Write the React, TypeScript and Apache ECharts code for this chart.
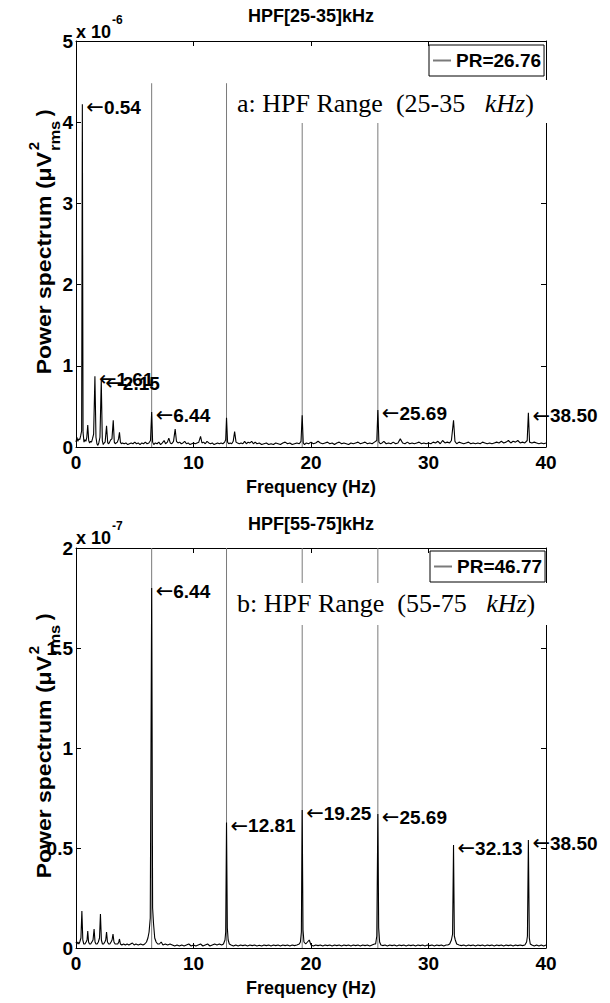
import React, { useEffect, useRef } from "react";
import * as echarts from "echarts";

const SANS = "'Liberation Sans', Arial, Helvetica, sans-serif";
const SERIF = "'Liberation Serif', 'Times New Roman', serif";

// ---------- texts ----------
const topTitle = "HPF[25-35]kHz";
const bottomTitle = "HPF[55-75]kHz";
const topLegendName = "PR=26.76";
const bottomLegendName = "PR=46.77";
const topNotePrefix = "a: HPF Range  (25-35   ";
const bottomNotePrefix = "b: HPF Range  (55-75   ";
const noteUnit = "kHz";
const xAxisName = "Frequency (Hz)";
const topExponent = "-6";
const bottomExponent = "-7";

// ---------- axes ----------
const xMin = 0;
const xMax = 40;
const xStep = 10;
const topYMax = 5;
const topYStep = 1;
const bottomYMax = 2;
const bottomYStep = 0.5;

// ---------- harmonic marker lines (grey, legend series) ----------
const harmonicHz = [6.44, 12.81, 19.25, 25.69];
const topHarmonicPower = [4.48, 4.48, 4.48, 4.48];
const bottomHarmonicPower = [2.0, 2.0, 2.0, 2.0];

// ---------- labelled peaks ----------
const topPeakHz = [0.54, 1.61, 2.15, 6.44, 25.69, 38.5];
const topPeakPower = [4.22, 0.87, 0.82, 0.43, 0.455, 0.42];
const bottomPeakHz = [6.44, 12.81, 19.25, 25.69, 32.13, 38.5];
const bottomPeakPower = [1.8, 0.627, 0.69, 0.67, 0.515, 0.54];

// ---------- spectra [Hz, power] (top: x1e-6, bottom: x1e-7) ----------
const topSpectrum = [
  [0.0, 0.06], [0.08, 0.12], [0.16, 0.07], [0.24, 0.1], [0.32, 0.09], [0.4, 0.14], [0.48, 0.2], [0.54, 4.22],
  [0.6, 0.18], [0.68, 0.06], [0.76, 0.09], [0.84, 0.07], [0.92, 0.12], [1.0, 0.27], [1.08, 0.08], [1.16, 0.05],
  [1.24, 0.07], [1.32, 0.06], [1.4, 0.1], [1.5, 0.16], [1.61, 0.87], [1.7, 0.12], [1.78, 0.04], [1.86, 0.02],
  [1.94, 0.05], [2.04, 0.12], [2.15, 0.82], [2.24, 0.08], [2.32, 0.03], [2.4, 0.05], [2.48, 0.06], [2.6, 0.26],
  [2.7, 0.05], [2.78, 0.04], [2.86, 0.06], [2.96, 0.09], [3.06, 0.1], [3.17, 0.33], [3.26, 0.06], [3.34, 0.04],
  [3.42, 0.05], [3.52, 0.06], [3.62, 0.1], [3.7, 0.18], [3.78, 0.06], [3.86, 0.04], [3.96, 0.05], [4.1, 0.04],
  [4.25, 0.05], [4.4, 0.03], [4.55, 0.04], [4.7, 0.05], [4.85, 0.04], [5.0, 0.06], [5.15, 0.04], [5.3, 0.05],
  [5.45, 0.03], [5.6, 0.05], [5.75, 0.04], [5.9, 0.06], [6.05, 0.04], [6.2, 0.05], [6.34, 0.08], [6.44, 0.43],
  [6.52, 0.06], [6.62, 0.03], [6.75, 0.05], [6.9, 0.04], [7.05, 0.06], [7.2, 0.03], [7.35, 0.05], [7.5, 0.08],
  [7.62, 0.04], [7.78, 0.06], [7.9, 0.11], [8.02, 0.05], [8.15, 0.04], [8.3, 0.07], [8.44, 0.22], [8.55, 0.07],
  [8.68, 0.05], [8.82, 0.06], [8.96, 0.04], [9.1, 0.05], [9.25, 0.07], [9.4, 0.04], [9.55, 0.05], [9.7, 0.03],
  [9.85, 0.04], [10.0, 0.05], [10.15, 0.04], [10.3, 0.05], [10.45, 0.06], [10.6, 0.13], [10.72, 0.05], [10.85, 0.06],
  [11.0, 0.04], [11.15, 0.07], [11.3, 0.05], [11.45, 0.04], [11.6, 0.05], [11.75, 0.03], [11.9, 0.04], [12.05, 0.05],
  [12.2, 0.04], [12.35, 0.05], [12.5, 0.04], [12.65, 0.06], [12.74, 0.09], [12.81, 0.36], [12.9, 0.06], [13.0, 0.04],
  [13.12, 0.05], [13.25, 0.04], [13.38, 0.07], [13.5, 0.19], [13.62, 0.06], [13.75, 0.05], [13.9, 0.04], [14.05, 0.05],
  [14.2, 0.04], [14.35, 0.07], [14.5, 0.04], [14.65, 0.06], [14.8, 0.05], [14.95, 0.07], [15.1, 0.04], [15.25, 0.06],
  [15.4, 0.04], [15.6, 0.05], [15.8, 0.03], [16.0, 0.04], [16.2, 0.05], [16.4, 0.03], [16.6, 0.04], [16.8, 0.03],
  [17.0, 0.05], [17.2, 0.04], [17.4, 0.03], [17.6, 0.05], [17.8, 0.06], [18.0, 0.04], [18.2, 0.05], [18.4, 0.03],
  [18.6, 0.04], [18.8, 0.05], [19.0, 0.04], [19.15, 0.07], [19.25, 0.39], [19.34, 0.05], [19.45, 0.03], [19.6, 0.05],
  [19.8, 0.04], [20.0, 0.06], [20.2, 0.04], [20.4, 0.05], [20.6, 0.07], [20.8, 0.05], [21.0, 0.04], [21.2, 0.05],
  [21.4, 0.06], [21.6, 0.04], [21.8, 0.05], [22.0, 0.03], [22.2, 0.05], [22.4, 0.06], [22.6, 0.04], [22.8, 0.05],
  [23.0, 0.04], [23.2, 0.03], [23.4, 0.05], [23.6, 0.04], [23.8, 0.05], [24.0, 0.06], [24.2, 0.04], [24.4, 0.05],
  [24.6, 0.06], [24.8, 0.04], [25.0, 0.05], [25.2, 0.04], [25.4, 0.06], [25.6, 0.08], [25.69, 0.455], [25.78, 0.06],
  [25.9, 0.04], [26.05, 0.05], [26.2, 0.07], [26.4, 0.04], [26.6, 0.05], [26.8, 0.04], [27.0, 0.06], [27.2, 0.04],
  [27.4, 0.05], [27.6, 0.1], [27.8, 0.05], [28.0, 0.04], [28.2, 0.06], [28.4, 0.04], [28.6, 0.05], [28.8, 0.04],
  [29.0, 0.05], [29.2, 0.06], [29.4, 0.04], [29.6, 0.05], [29.8, 0.04], [30.0, 0.05], [30.2, 0.04], [30.4, 0.06],
  [30.6, 0.05], [30.8, 0.07], [31.0, 0.04], [31.2, 0.08], [31.4, 0.05], [31.6, 0.06], [31.8, 0.05], [31.95, 0.08],
  [32.13, 0.33], [32.25, 0.07], [32.4, 0.04], [32.6, 0.06], [32.8, 0.05], [33.0, 0.04], [33.2, 0.05], [33.4, 0.06],
  [33.6, 0.04], [33.8, 0.05], [34.0, 0.04], [34.2, 0.05], [34.4, 0.04], [34.6, 0.06], [34.8, 0.05], [35.0, 0.04],
  [35.2, 0.05], [35.4, 0.04], [35.6, 0.05], [35.8, 0.06], [36.0, 0.05], [36.2, 0.07], [36.4, 0.05], [36.6, 0.06],
  [36.8, 0.08], [37.0, 0.05], [37.2, 0.07], [37.4, 0.06], [37.6, 0.08], [37.8, 0.05], [38.0, 0.06], [38.2, 0.05],
  [38.4, 0.08], [38.5, 0.42], [38.6, 0.06], [38.8, 0.05], [39.0, 0.06], [39.2, 0.05], [39.4, 0.04], [39.6, 0.05],
  [39.8, 0.04], [40.0, 0.05],
];

const bottomSpectrum = [
  [0.0, 0.03], [0.08, 0.02], [0.16, 0.03], [0.24, 0.02], [0.32, 0.03], [0.42, 0.05], [0.5, 0.185], [0.58, 0.04],
  [0.66, 0.02], [0.76, 0.02], [0.86, 0.03], [0.94, 0.04], [1.0, 0.085], [1.07, 0.03], [1.15, 0.02], [1.25, 0.02],
  [1.35, 0.03], [1.45, 0.04], [1.54, 0.095], [1.62, 0.03], [1.7, 0.02], [1.8, 0.02], [1.9, 0.03], [2.0, 0.05],
  [2.08, 0.17], [2.16, 0.04], [2.25, 0.02], [2.35, 0.02], [2.45, 0.03], [2.53, 0.04], [2.6, 0.08], [2.68, 0.03],
  [2.78, 0.02], [2.88, 0.02], [2.98, 0.03], [3.07, 0.04], [3.15, 0.07], [3.23, 0.03], [3.33, 0.02], [3.45, 0.02],
  [3.55, 0.02], [3.64, 0.03], [3.7, 0.045], [3.78, 0.02], [3.9, 0.015], [4.05, 0.02], [4.2, 0.015], [4.35, 0.02],
  [4.5, 0.015], [4.65, 0.02], [4.8, 0.025], [4.95, 0.015], [5.1, 0.02], [5.3, 0.015], [5.5, 0.02], [5.7, 0.015],
  [5.85, 0.02], [6.0, 0.03], [6.12, 0.05], [6.22, 0.08], [6.32, 0.15], [6.44, 1.8], [6.52, 0.2], [6.6, 0.12],
  [6.7, 0.05], [6.82, 0.03], [6.95, 0.02], [7.1, 0.02], [7.25, 0.03], [7.4, 0.015], [7.6, 0.02], [7.8, 0.015],
  [8.0, 0.02], [8.2, 0.015], [8.4, 0.01], [8.6, 0.015], [8.8, 0.01], [9.0, 0.015], [9.2, 0.01], [9.4, 0.015],
  [9.6, 0.02], [9.8, 0.01], [10.0, 0.015], [10.2, 0.01], [10.4, 0.015], [10.6, 0.02], [10.8, 0.01], [11.0, 0.015],
  [11.2, 0.02], [11.4, 0.01], [11.6, 0.015], [11.8, 0.02], [12.0, 0.015], [12.2, 0.02], [12.4, 0.015], [12.55, 0.02],
  [12.68, 0.04], [12.74, 0.08], [12.81, 0.627], [12.88, 0.1], [12.95, 0.04], [13.05, 0.02], [13.2, 0.015], [13.4, 0.01],
  [13.6, 0.015], [13.8, 0.01], [14.0, 0.015], [14.2, 0.012], [14.4, 0.015], [14.6, 0.01], [14.8, 0.015], [15.0, 0.012],
  [15.2, 0.015], [15.4, 0.01], [15.6, 0.014], [15.8, 0.01], [16.0, 0.015], [16.2, 0.012], [16.4, 0.015], [16.6, 0.01],
  [16.8, 0.015], [17.0, 0.012], [17.2, 0.015], [17.4, 0.01], [17.6, 0.015], [17.8, 0.012], [18.0, 0.015], [18.2, 0.01],
  [18.4, 0.015], [18.6, 0.012], [18.8, 0.015], [19.0, 0.02], [19.1, 0.03], [19.18, 0.08], [19.25, 0.69], [19.32, 0.09],
  [19.4, 0.03], [19.55, 0.02], [19.7, 0.03], [19.85, 0.04], [20.0, 0.015], [20.2, 0.01], [20.4, 0.015], [20.6, 0.012],
  [20.8, 0.015], [21.0, 0.01], [21.2, 0.015], [21.4, 0.012], [21.6, 0.015], [21.8, 0.01], [22.0, 0.015], [22.2, 0.012],
  [22.4, 0.015], [22.6, 0.01], [22.8, 0.015], [23.0, 0.012], [23.2, 0.015], [23.4, 0.01], [23.6, 0.015], [23.8, 0.012],
  [24.0, 0.015], [24.2, 0.01], [24.4, 0.015], [24.6, 0.012], [24.8, 0.015], [25.0, 0.01], [25.2, 0.015], [25.4, 0.02],
  [25.5, 0.02], [25.6, 0.06], [25.69, 0.67], [25.76, 0.1], [25.84, 0.03], [25.95, 0.015], [26.1, 0.012], [26.3, 0.015],
  [26.5, 0.01], [26.7, 0.015], [26.9, 0.012], [27.1, 0.015], [27.3, 0.01], [27.5, 0.015], [27.7, 0.012], [27.9, 0.015],
  [28.1, 0.01], [28.3, 0.015], [28.5, 0.012], [28.7, 0.015], [28.9, 0.01], [29.1, 0.015], [29.3, 0.012], [29.5, 0.015],
  [29.7, 0.01], [29.9, 0.015], [30.1, 0.012], [30.3, 0.015], [30.5, 0.01], [30.7, 0.015], [30.9, 0.012], [31.1, 0.015],
  [31.3, 0.01], [31.5, 0.015], [31.65, 0.015], [31.8, 0.02], [31.95, 0.04], [32.05, 0.07], [32.13, 0.515], [32.2, 0.06],
  [32.28, 0.04], [32.4, 0.02], [32.6, 0.015], [32.8, 0.012], [33.0, 0.015], [33.2, 0.01], [33.4, 0.015], [33.6, 0.012],
  [33.8, 0.015], [34.0, 0.01], [34.2, 0.015], [34.4, 0.012], [34.6, 0.015], [34.8, 0.01], [35.0, 0.015], [35.2, 0.012],
  [35.4, 0.015], [35.6, 0.01], [35.8, 0.015], [36.0, 0.012], [36.2, 0.015], [36.4, 0.01], [36.6, 0.015], [36.8, 0.012],
  [37.0, 0.015], [37.2, 0.01], [37.4, 0.015], [37.6, 0.012], [37.8, 0.015], [38.0, 0.012], [38.2, 0.015], [38.35, 0.03],
  [38.42, 0.06], [38.5, 0.54], [38.58, 0.05], [38.66, 0.02], [38.8, 0.015], [39.0, 0.01], [39.2, 0.015], [39.4, 0.01],
  [39.6, 0.015], [39.8, 0.01], [40.0, 0.015],
];

// ---------- helpers ----------
function harmonicLines(hz: number[], power: number[]) {
  const out: any[] = [];
  hz.forEach((h, i) => {
    out.push([h, 0], [h, power[i]], [h, "-"]);
  });
  return out;
}

function peakPairs(hz: number[], power: number[]) {
  return hz.map((h, i) => [h, power[i]]);
}

const GRID_LEFT = 76;
const GRID_WIDTH = 470;
const GRID_TOPS = [41, 548];
const GRID_HEIGHTS = [406, 400];

function yNameGraphics(cy: number) {
  const base = { fontFamily: SANS, fontWeight: "bold" as const, fill: "#000" };
  return [
    {
      type: "text",
      x: 44,
      y: cy - 92,
      rotation: Math.PI / 2,
      scaleX: 1.15,
      style: { ...base, text: "Power spectrum (\u03bcV", fontSize: 20, align: "right", verticalAlign: "middle" },
    },
    {
      type: "text",
      x: 33,
      y: cy - 98,
      rotation: Math.PI / 2,
      style: { ...base, text: "2", fontSize: 15, align: "center", verticalAlign: "middle" },
    },
    {
      type: "text",
      x: 55,
      y: cy - 93,
      rotation: Math.PI / 2,
      scaleX: 1.1,
      style: { ...base, text: "rms", fontSize: 15, align: "left", verticalAlign: "middle" },
    },
    {
      type: "text",
      x: 44,
      y: cy - 131,
      rotation: Math.PI / 2,
      style: { ...base, text: ")", fontSize: 20, align: "center", verticalAlign: "middle" },
    },
  ];
}

function exponentGraphics(y: number, exp: string) {
  return [
    {
      type: "text",
      x: 76,
      y: y,
      style: { text: "x 10", fontFamily: SANS, fontWeight: "bold", fontSize: 18, fill: "#000", align: "left", verticalAlign: "middle" },
    },
    {
      type: "text",
      x: 112,
      y: y - 12,
      style: { text: exp, fontFamily: SANS, fontWeight: "bold", fontSize: 12, fill: "#000", align: "left", verticalAlign: "middle" },
    },
  ];
}

function noteGraphics(boxTop: number, boxHeight: number, textY: number, prefix: string) {
  return [
    {
      type: "rect",
      z: 50,
      shape: { x: 232, y: boxTop, width: 318, height: boxHeight },
      style: { fill: "#fff" },
    },
    {
      type: "text",
      z: 51,
      x: 237,
      y: textY,
      style: {
        text: prefix + "{it|" + noteUnit + "})",
        fontFamily: SERIF,
        fontSize: 26,
        fill: "#000",
        align: "left",
        verticalAlign: "middle",
        rich: {
          it: { fontFamily: SERIF, fontStyle: "italic", fontSize: 26, fill: "#000" },
        },
      },
    },
  ];
}

function axisPair(gridIndex: number, yMax: number, yStep: number) {
  const lineStyle = { color: "#000", width: 1 };
  const labelStyle = { fontFamily: SANS, fontWeight: "bold", fontSize: 19, color: "#000" };
  const x = [
    {
      gridIndex,
      type: "value",
      min: xMin,
      max: xMax,
      interval: xStep,
      position: "bottom",
      axisLine: { show: true, lineStyle },
      axisTick: { show: true, inside: true, length: 5, lineStyle },
      axisLabel: { ...labelStyle, margin: 6 },
      splitLine: { show: false },
      name: xAxisName,
      nameLocation: "middle",
      nameGap: 31,
      nameTextStyle: { fontFamily: SANS, fontWeight: "bold", fontSize: 18, color: "#000" },
    },
    {
      gridIndex,
      type: "value",
      min: xMin,
      max: xMax,
      interval: xStep,
      position: "top",
      axisLine: { show: true, onZero: false, lineStyle },
      axisTick: { show: true, inside: true, length: 5, lineStyle },
      axisLabel: { show: false },
      splitLine: { show: false },
    },
  ];
  const y = [
    {
      gridIndex,
      type: "value",
      min: 0,
      max: yMax,
      interval: yStep,
      position: "left",
      axisLine: { show: true, onZero: false, lineStyle },
      axisTick: { show: true, inside: true, length: 5, lineStyle },
      axisLabel: { ...labelStyle, margin: 3 },
      splitLine: { show: false },
    },
    {
      gridIndex,
      type: "value",
      min: 0,
      max: yMax,
      interval: yStep,
      position: "right",
      axisLine: { show: true, onZero: false, lineStyle },
      axisTick: { show: true, inside: true, length: 5, lineStyle },
      axisLabel: { show: false },
      splitLine: { show: false },
    },
  ];
  return { x, y };
}

function chartSeries(
  axisIndex: number,
  legendName: string,
  harmonicPower: number[],
  spectrum: number[][],
  peakHz: number[],
  peakPower: number[]
) {
  return [
    {
      name: legendName,
      type: "line",
      xAxisIndex: axisIndex,
      yAxisIndex: axisIndex,
      data: harmonicLines(harmonicHz, harmonicPower),
      showSymbol: false,
      symbol: "none",
      connectNulls: false,
      lineStyle: { color: "#7a7a7a", width: 1 },
      itemStyle: { color: "#7a7a7a" },
      silent: true,
      z: 2,
    },
    {
      name: "spectrum" + axisIndex,
      type: "line",
      xAxisIndex: axisIndex,
      yAxisIndex: axisIndex,
      data: spectrum,
      showSymbol: false,
      symbol: "none",
      lineStyle: { color: "#000", width: 1.1 },
      itemStyle: { color: "#000" },
      silent: true,
      z: 3,
    },
    {
      name: "peaks" + axisIndex,
      type: "scatter",
      xAxisIndex: axisIndex,
      yAxisIndex: axisIndex,
      data: peakPairs(peakHz, peakPower),
      symbolSize: 0,
      silent: true,
      z: 4,
      itemStyle: { opacity: 1, color: "#000" },
      label: {
        show: true,
        position: "right",
        distance: 4,
        offset: [0, 3],
        opacity: 1,
        formatter: (p: any) => "{a|\u2190}" + Number(p.value[0]).toFixed(2),
        fontFamily: SANS,
        fontWeight: "bold",
        fontSize: 19,
        color: "#000",
        textBorderWidth: 0,
        rich: {
          a: { fontFamily: "'DejaVu Sans', sans-serif", fontWeight: "normal", fontSize: 21, color: "#000" },
        },
      },
    },
  ];
}

export default function App() {
  const ref = useRef<HTMLDivElement>(null);

  useEffect(() => {
    document.body.style.margin = "0";
    if (!ref.current) return;
    const chart = echarts.init(ref.current, undefined, { renderer: "svg" });

    const top = axisPair(0, topYMax, topYStep);
    const bottom = axisPair(1, bottomYMax, bottomYStep);

    const legendCommon = {
      orient: "horizontal",
      selectedMode: false,
      borderColor: "#000",
      borderWidth: 1,
      backgroundColor: "#fff",
      padding: [6, 3, 6, 4],
      itemWidth: 18,
      itemHeight: 2,
      itemGap: 0,
      textStyle: { fontFamily: SANS, fontWeight: "bold", fontSize: 19, color: "#000" },
    };

    const option: any = {
      animation: false,
      backgroundColor: "#fff",
      title: [
        {
          text: topTitle,
          left: 311,
          top: 7,
          textAlign: "center",
          padding: 0,
          textStyle: { fontFamily: SANS, fontWeight: "bold", fontSize: 18, color: "#000" },
        },
        {
          text: bottomTitle,
          left: 311,
          top: 515,
          textAlign: "center",
          padding: 0,
          textStyle: { fontFamily: SANS, fontWeight: "bold", fontSize: 18, color: "#000" },
        },
      ],
      legend: [
        { ...legendCommon, data: [{ name: topLegendName, icon: "rect" }], left: 429, top: 45 },
        { ...legendCommon, data: [{ name: bottomLegendName, icon: "rect" }], left: 430, top: 551 },
      ],
      grid: [
        { left: GRID_LEFT, top: GRID_TOPS[0], width: GRID_WIDTH, height: GRID_HEIGHTS[0], containLabel: false },
        { left: GRID_LEFT, top: GRID_TOPS[1], width: GRID_WIDTH, height: GRID_HEIGHTS[1], containLabel: false },
      ],
      xAxis: [...top.x, ...bottom.x],
      yAxis: [...top.y, ...bottom.y],
      series: [
        ...chartSeries(0, topLegendName, topHarmonicPower, topSpectrum, topPeakHz, topPeakPower),
        ...chartSeries(2, bottomLegendName, bottomHarmonicPower, bottomSpectrum, bottomPeakHz, bottomPeakPower),
      ],
      graphic: [
        ...exponentGraphics(32, topExponent),
        ...exponentGraphics(538, bottomExponent),
        ...yNameGraphics(244),
        ...yNameGraphics(748),
        ...noteGraphics(80, 43, 103, topNotePrefix),
        ...noteGraphics(583, 42, 603, bottomNotePrefix),
      ],
    };

    chart.setOption(option);
    return () => {
      chart.dispose();
    };
  }, []);

  return <div ref={ref} style={{ width: 610, height: 1003 }} />;
}
